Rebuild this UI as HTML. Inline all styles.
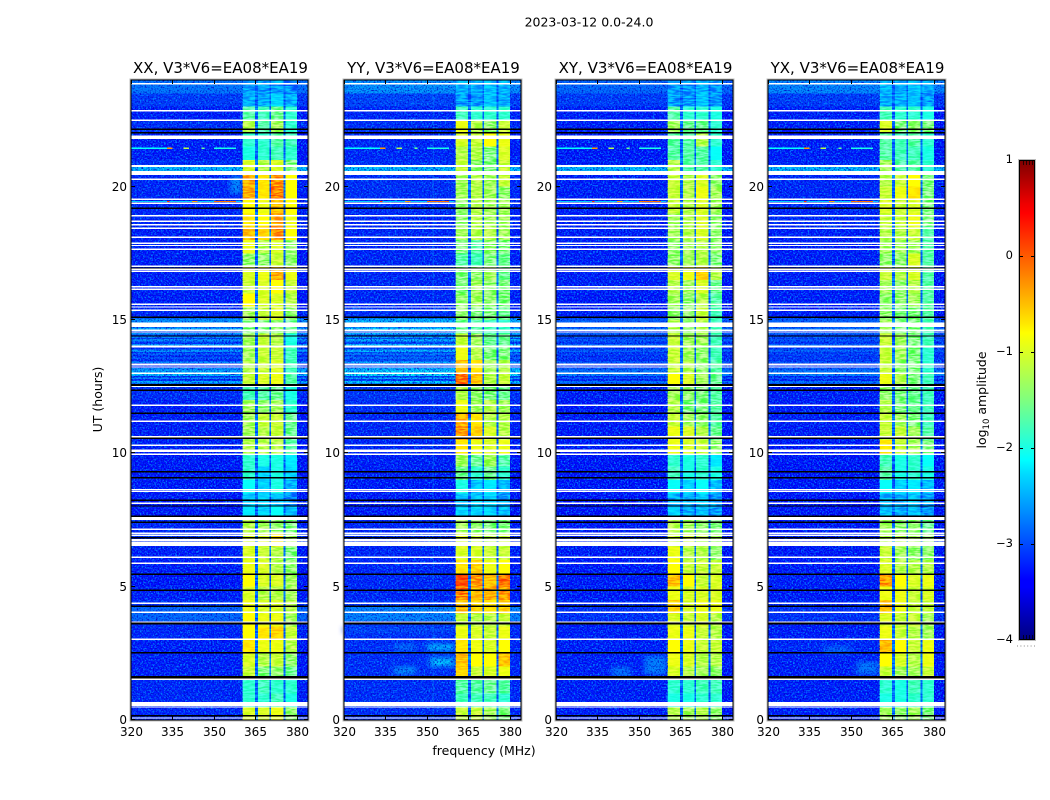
<!DOCTYPE html>
<html lang="en">
<head>
<meta charset="utf-8">
<title>2023-03-12 0.0-24.0</title>
<style>
html,body{margin:0;padding:0;background:#fff;}
svg{display:block;}
text{font-family:"DejaVu Sans","Liberation Sans",sans-serif;fill:#000;}
</style>
</head>
<body>
<svg id="figure" xmlns="http://www.w3.org/2000/svg" width="1050" height="800" viewBox="0 0 1050 800">
  <defs>
    <filter id="noise" x="0" y="0" width="100%" height="100%" color-interpolation-filters="sRGB">
      <feTurbulence type="fractalNoise" baseFrequency="0.12 0.6" numOctaves="2" seed="4"/>
      <feColorMatrix type="matrix" values="3.4 0 0 0 -1.2  3.4 0 0 0 -1.2  3.4 0 0 0 -1.2  0 0 0 0 1"/>
    </filter>
    <filter id="speckle-light" x="0" y="0" width="100%" height="100%" color-interpolation-filters="sRGB">
      <feTurbulence type="fractalNoise" baseFrequency="0.62" numOctaves="2" seed="7"/>
      <feColorMatrix type="matrix" values="0 0 0 0 0  0 0 0 0 0.52  0 0 0 0 1  3.6 0 0 0 -1.6"/>
    </filter>
    <filter id="speckle-dark" x="0" y="0" width="100%" height="100%" color-interpolation-filters="sRGB">
      <feTurbulence type="fractalNoise" baseFrequency="0.62" numOctaves="2" seed="21"/>
      <feColorMatrix type="matrix" values="0 0 0 0 0  0 0 0 0 0  0 0 0 0 0.78  3 0 0 0 -1.45"/>
    </filter>
    <filter id="soft" x="-30%" y="-60%" width="160%" height="220%">
      <feGaussianBlur stdDeviation="3 2"/>
    </filter>
    <linearGradient id="jet-gradient" x1="0" y1="1" x2="0" y2="0">
      <stop offset="0" stop-color="#00007f"/>
      <stop offset="0.11" stop-color="#0000ff"/>
      <stop offset="0.125" stop-color="#0000ff"/>
      <stop offset="0.35" stop-color="#00e0ff"/>
      <stop offset="0.375" stop-color="#00ffff"/>
      <stop offset="0.5" stop-color="#7fff7f"/>
      <stop offset="0.64" stop-color="#ffff00"/>
      <stop offset="0.66" stop-color="#ffe800"/>
      <stop offset="0.89" stop-color="#ff0000"/>
      <stop offset="0.91" stop-color="#ee0000"/>
      <stop offset="1" stop-color="#7f0000"/>
    </linearGradient>
  </defs>
  <text x="589" y="26.5" text-anchor="middle" font-size="12.5">2023-03-12 0.0-24.0</text>
  <text x="484" y="755" text-anchor="middle" font-size="12.5">frequency (MHz)</text>
  <text x="102" y="399.5" text-anchor="middle" font-size="12.5" transform="rotate(-90 102 399.5)">UT (hours)</text>
  <text x="986" y="400" text-anchor="middle" font-size="12.5" transform="rotate(-90 986 400)">log<tspan font-size="8.5" dy="3">10</tspan><tspan dy="-3"> amplitude</tspan></text>
  <g id="panels"></g>
  <g id="colorbar"></g>
</svg>
<script>
// Half-hour bins, from 0 UT upward, log10 amplitude for each sub-band
const xxBandA = [-1.0,-1.9,-1.9,-1.1,-1.0,-0.7,-0.8,-0.8,-0.9,-1.0,-0.8,-0.9,-1.0,-1.0,-1.2,-2.2,-2.4,-2.1,-1.9,-1.9,-1.2,-1.3,-1.3,-1.3,-1.8,-1.1,-1.2,-1.3,-1.3,-1.5,-1.3,-0.8,-1.1,-1.0,-1.4,-0.9,-0.5,-0.7,-0.8,-0.4,-0.4,-1.0,-2.0,-1.9,-1.2,-1.7,-2.5,-2.6];
const xxBandB = [-1.0,-1.9,-1.8,-1.5,-1.2,-0.9,-0.7,-0.9,-1.0,-1.2,-1.0,-1.0,-1.1,-1.0,-1.3,-2.3,-2.3,-2.3,-2.3,-2.0,-1.2,-1.2,-1.1,-1.4,-1.7,-1.0,-1.1,-1.1,-1.1,-1.5,-1.1,-1.0,-1.0,-0.9,-1.4,-1.2,-0.6,-0.8,-0.9,-0.7,-0.7,-1.2,-1.9,-1.9,-1.7,-1.8,-2.5,-2.6];
const xxBandC = [-0.9,-1.8,-1.9,-1.4,-1.1,-0.9,-0.6,-0.9,-1.0,-1.2,-1.0,-1.2,-1.2,-0.7,-1.4,-2.1,-2.4,-2.0,-2.0,-2.0,-1.2,-1.1,-1.1,-1.3,-1.6,-0.9,-1.0,-1.1,-1.2,-1.4,-1.0,-1.0,-0.8,-0.4,-1.1,-1.0,-0.3,-0.4,-0.5,-0.2,-0.3,-1.0,-1.8,-1.7,-1.3,-1.6,-2.3,-2.6];
const xxBandD = [-1.4,-2.0,-1.9,-1.6,-1.4,-1.2,-1.1,-1.3,-1.2,-1.3,-1.3,-1.4,-1.5,-1.3,-1.5,-2.4,-2.7,-2.5,-2.3,-2.2,-1.7,-1.6,-1.6,-1.9,-2.0,-1.7,-1.8,-1.8,-2.0,-1.6,-1.4,-1.2,-1.1,-0.9,-1.4,-1.4,-0.8,-0.9,-0.8,-0.8,-0.8,-1.5,-1.9,-1.8,-1.9,-1.9,-2.5,-2.7];
const yyBandA = [-1.1,-1.8,-1.7,-0.6,-0.5,-0.7,-0.9,-1.1,-0.5,-0.2,0.1,-0.7,-1.0,-1.0,-1.3,-2.3,-2.4,-2.0,-1.6,-1.3,-0.7,-0.3,-0.4,-0.9,-1.2,-0.1,-0.5,-0.9,-1.1,-1.6,-1.4,-1.4,-1.5,-1.5,-1.7,-1.5,-1.3,-1.4,-1.4,-1.3,-1.3,-1.1,-1.2,-1.0,-0.9,-1.8,-2.6,-2.5];
const yyBandB = [-1.1,-1.8,-1.7,-1.1,-0.8,-0.9,-1.0,-1.2,-0.6,-0.5,-0.3,-0.6,-1.0,-1.1,-1.4,-2.3,-2.4,-2.4,-1.9,-1.6,-0.9,-0.6,-0.7,-1.3,-1.4,-0.5,-0.7,-1.2,-1.3,-1.7,-1.5,-1.3,-1.3,-1.4,-1.8,-1.7,-1.2,-1.2,-1.2,-1.2,-1.2,-1.4,-1.2,-1.1,-1.2,-1.9,-2.6,-2.5];
const yyBandC = [-1.3,-1.8,-1.6,-1.0,-0.8,-1.0,-1.1,-1.2,-0.7,-0.4,-0.5,-0.9,-1.1,-1.2,-1.5,-2.3,-2.3,-2.2,-1.6,-1.3,-1.0,-1.0,-1.2,-1.2,-1.5,-1.2,-1.3,-1.5,-1.6,-1.8,-1.5,-1.4,-1.4,-1.3,-1.5,-1.4,-1.2,-1.3,-1.3,-1.3,-1.3,-1.5,-1.5,-0.8,-1.4,-1.9,-2.4,-2.4];
const yyBandD = [-1.5,-1.9,-1.7,-0.9,-0.5,-0.8,-0.9,-1.1,-0.6,-0.3,-0.1,-0.8,-1.1,-1.1,-1.5,-2.4,-2.6,-2.5,-1.9,-1.7,-0.9,-1.2,-1.2,-1.3,-1.6,-1.1,-1.2,-1.5,-1.6,-1.9,-1.6,-1.5,-1.5,-1.6,-1.6,-1.5,-1.3,-1.3,-1.3,-1.4,-1.1,-1.1,-1.0,-0.9,-1.1,-1.9,-2.5,-2.5];
const xyBandA = [-1.2,-2.0,-1.9,-1.0,-0.9,-0.8,-0.9,-1.0,-0.6,-0.9,-0.5,-0.8,-0.9,-1.1,-1.2,-2.3,-2.5,-2.1,-1.8,-1.9,-0.9,-0.9,-1.1,-1.2,-1.3,-0.8,-1.1,-1.1,-1.1,-1.2,-1.4,-1.3,-1.2,-1.0,-1.4,-1.4,-1.3,-1.3,-1.1,-1.1,-1.1,-1.2,-1.7,-1.7,-1.3,-1.7,-2.6,-2.6];
const xyBandB = [-1.3,-2.0,-1.9,-1.2,-1.0,-0.9,-0.9,-1.1,-1.0,-1.0,-0.8,-1.1,-1.2,-1.1,-1.3,-2.5,-2.5,-2.3,-2.0,-2.0,-1.0,-1.0,-1.3,-1.5,-1.4,-1.0,-1.2,-1.3,-1.3,-1.4,-1.4,-1.4,-1.3,-0.9,-1.3,-1.3,-1.2,-1.2,-1.2,-1.2,-1.2,-1.7,-1.7,-1.7,-1.6,-1.9,-2.6,-2.6];
const xyBandC = [-1.2,-1.9,-1.8,-1.3,-1.2,-1.1,-1.1,-1.0,-0.9,-1.0,-1.1,-1.1,-1.2,-1.2,-1.4,-2.4,-2.4,-2.1,-1.9,-1.9,-1.1,-1.2,-1.4,-1.5,-1.5,-1.3,-1.4,-1.4,-1.3,-1.2,-1.1,-1.2,-1.0,-0.6,-1.2,-1.2,-1.0,-1.0,-1.0,-0.9,-1.0,-1.7,-1.7,-1.2,-1.6,-1.9,-2.4,-2.5];
const xyBandD = [-1.4,-1.9,-1.8,-1.4,-1.2,-1.1,-1.2,-1.2,-0.9,-1.0,-1.0,-1.1,-1.4,-1.3,-1.5,-2.6,-2.6,-2.4,-2.0,-2.2,-1.4,-1.6,-1.7,-1.7,-1.7,-1.6,-1.7,-1.8,-1.8,-1.8,-1.8,-1.7,-1.6,-1.2,-1.5,-1.4,-1.4,-1.4,-1.3,-1.3,-1.4,-1.9,-2.1,-1.9,-1.9,-2.0,-2.6,-2.6];
const yxBandA = [-1.3,-2.0,-1.9,-1.1,-0.8,-0.5,-0.9,-1.0,-0.5,-0.9,-0.3,-1.0,-1.1,-1.2,-1.3,-2.4,-2.5,-2.1,-1.7,-1.8,-0.7,-1.1,-1.1,-1.2,-1.4,-0.9,-1.1,-1.1,-1.1,-1.3,-1.4,-1.4,-1.3,-1.1,-1.4,-1.3,-1.2,-1.1,-1.0,-1.1,-1.2,-1.3,-1.7,-1.7,-1.0,-1.8,-2.5,-2.45];
const yxBandB = [-1.4,-2.0,-2.0,-1.3,-1.0,-0.8,-1.1,-1.1,-0.9,-0.9,-0.8,-1.2,-1.3,-1.2,-1.4,-2.5,-2.5,-2.3,-2.0,-2.0,-1.1,-1.1,-1.3,-1.5,-1.5,-1.2,-1.4,-1.3,-1.3,-1.5,-1.5,-1.4,-1.4,-1.2,-1.4,-1.3,-1.2,-1.1,-1.1,-0.9,-1.1,-1.7,-1.8,-1.8,-1.5,-1.9,-2.5,-2.5];
const yxBandC = [-1.3,-1.9,-1.8,-1.3,-1.2,-1.1,-1.2,-1.1,-1.1,-1.1,-1.0,-1.2,-1.4,-1.3,-1.4,-2.4,-2.4,-2.2,-1.9,-1.9,-1.3,-1.3,-1.5,-1.6,-1.6,-1.5,-1.5,-1.5,-1.5,-1.5,-1.5,-1.3,-1.2,-1.0,-1.0,-1.3,-1.1,-0.9,-1.0,-0.7,-0.8,-1.7,-1.8,-1.7,-1.4,-1.9,-2.4,-2.4];
const yxBandD = [-1.5,-1.9,-1.9,-1.1,-0.9,-0.9,-1.3,-1.3,-1.1,-1.0,-0.9,-1.2,-1.4,-1.4,-1.6,-2.6,-2.6,-2.4,-2.0,-2.1,-1.5,-1.7,-1.8,-1.8,-1.8,-1.8,-1.9,-1.9,-1.8,-1.8,-1.7,-1.7,-1.7,-1.7,-1.7,-1.7,-1.7,-1.5,-1.5,-1.5,-1.5,-1.9,-2.0,-1.9,-1.5,-2.0,-2.6,-2.5];
// Background level outside the sub-bands, per half-hour bin
const xxBackground = [-3.27,-3.27,-3.27,-3.32,-3.32,-3.32,-3.27,-3.22,-3.22,-3.32,-3.37,-3.32,-3.32,-3.22,-3.27,-3.35,-3.35,-3.35,-3.35,-3.35,-3.32,-3.32,-3.32,-3.32,-3.22,-3.22,-3.22,-3.22,-3.17,-3.12,-3.27,-3.32,-3.32,-3.32,-3.32,-3.32,-3.32,-3.27,-3.27,-3.27,-3.27,-3.22,-3.32,-3.32,-3.22,-3.32,-3.12,-2.75];
const yyBackground = [-3.22,-3.22,-3.22,-3.22,-3.22,-3.22,-3.22,-3.17,-3.17,-3.27,-3.27,-3.27,-3.27,-3.22,-3.27,-3.35,-3.35,-3.35,-3.32,-3.32,-3.27,-3.27,-3.27,-3.22,-3.17,-3.12,-3.02,-3.07,-3.07,-3.02,-3.22,-3.27,-3.27,-3.27,-3.27,-3.27,-3.27,-3.27,-3.22,-3.22,-3.22,-3.22,-3.27,-3.27,-3.22,-3.27,-3.07,-2.55];
const xyBackground = [-3.32,-3.32,-3.32,-3.32,-3.32,-3.32,-3.32,-3.32,-3.27,-3.35,-3.35,-3.35,-3.35,-3.32,-3.35,-3.4,-3.4,-3.4,-3.38,-3.38,-3.35,-3.35,-3.35,-3.35,-3.32,-3.27,-3.22,-3.22,-3.17,-3.22,-3.32,-3.35,-3.32,-3.32,-3.32,-3.32,-3.32,-3.32,-3.32,-3.32,-3.32,-3.32,-3.35,-3.35,-3.32,-3.32,-3.12,-2.85];
const yxBackground = [-3.32,-3.32,-3.32,-3.32,-3.32,-3.27,-3.32,-3.32,-3.27,-3.35,-3.32,-3.35,-3.35,-3.32,-3.35,-3.4,-3.4,-3.4,-3.38,-3.38,-3.35,-3.35,-3.32,-3.32,-3.32,-3.27,-3.22,-3.17,-3.17,-3.22,-3.32,-3.32,-3.32,-3.32,-3.32,-3.32,-3.32,-3.27,-3.27,-3.27,-3.27,-3.27,-3.32,-3.32,-3.32,-3.32,-3.12,-2.62];

// Flagged time ranges in hours, common to all baselines
const whiteFlags = [[23.84,23.89],[22.82,22.87],[22.46,22.52],[21.79,21.91],[20.73,20.81],[20.44,20.59],[20.25,20.30],[19.5,19.55],[19.35,19.40],[18.89,18.94],[18.68,18.73],[18.55,18.60],[18.42,18.47],[18.08,18.13],[17.85,17.90],[17.77,17.82],[17.63,17.68],[16.99,17.04],[16.88,16.93],[16.80,16.85],[16.22,16.28],[16.13,16.19],[15.56,15.62],[15.46,15.51],[15.34,15.39],[14.74,14.90],[14.59,14.64],[14.53,14.57],[13.96,14.04],[13.29,13.36],[13.21,13.26],[12.98,13.03],[12.49,12.54],[11.78,11.83],[11.18,11.23],[10.60,10.65],[10.28,10.33],[10.05,10.15],[9.94,9.99],[8.63,8.67],[8.55,8.60],[8.10,8.15],[7.50,7.62],[7.13,7.18],[6.98,7.03],[6.90,6.95],[6.70,6.78],[6.53,6.68],[6.08,6.13],[5.85,5.90],[4.35,4.40],[4.01,4.07],[3.64,3.69],[3.00,3.05],[1.50,1.55],[0.53,0.68],[0.46,0.51],[0.05,0.10]];
const blackFlags = [[22.12,22.19],[22.0,22.05],[19.16,19.22],[16.93,16.97],[15.08,15.13],[14.38,14.42],[12.53,12.6],[12.34,12.40],[11.48,11.53],[10.54,10.59],[9.29,9.34],[9.06,9.11],[8.21,8.27],[8.0,8.05],[7.61,7.67],[7.39,7.44],[6.81,6.86],[5.44,5.49],[4.84,4.89],[4.24,4.29],[3.59,3.65],[2.50,2.55],[1.55,1.65],[0.14,0.19]];

// Wide-band stripes across the background: start hour, end hour, level
const stripeStart = [3.72,12.62,12.78,12.9,13.03,13.13,13.38,13.55,13.7,13.8,14.05,14.2,14.32,14.45,14.6,14.9];
const stripeEnd   = [4.30,12.72,12.85,12.97,13.12,13.2,13.45,13.6,13.75,13.9,14.1,14.28,14.38,14.52,14.72,15.05];
const stripeLevel = [-2.85,-2.4,-2.6,-2.3,-2.4,-2.55,-2.55,-2.75,-2.65,-2.55,-2.5,-2.6,-2.65,-2.45,-2.4,-2.55];
const stripeBoost = [0,0.2,-0.35,-0.35];
const sharedStripeStart = 20.59;
const sharedStripeEnd = 20.73;
const sharedStripeLevel = -2.3;

// Narrow-band interference: freq start, freq end, hour, level
const rfiFreqStart = [320,333,345.5,339,350,320,333,342,350];
const rfiFreqEnd   = [334,335,346.5,341,358,360,334,344,358];
const rfiHour      = [21.44,21.44,21.44,21.44,21.44,19.44,19.44,19.44,19.44];
const rfiLevel     = [-2.1,-0.3,-1.6,-1.2,-2.0,-2.35,0.2,-0.4,-0.1];

// Diffuse patches per panel index: panel, freq start, freq end, hour start, hour end, level
const patchPanel = [1,1,1,1,2,2,3,3,0,1];
const patchFreqStart = [350,351,338,338,352,340,340,352,356,320];
const patchFreqEnd   = [360,360,346,346,360,347,350,360,360,360];
const patchHourStart = [2.6,2.0,1.7,2.6,1.7,1.6,2.5,1.7,19.75,3.25];
const patchHourEnd   = [2.85,2.35,2.0,2.85,2.4,2.0,2.75,2.2,20.4,3.5];
const patchLevel     = [-2.3,-2.3,-2.6,-2.8,-2.7,-2.8,-2.85,-2.75,-2.6,-3.05];

const subBandNames = ['a','b','c','d'];
const subBandStart = [360.4,365.9,370.7,375.8];
const subBandEnd   = [364.9,370.0,375.2,380.1];
const gapStart = [364.9,370.0,375.2];
const gapEnd   = [365.9,370.7,375.8];
const gapLevel = -2.85;
const freqTicks = [320,335,350,365,380];
const hourTicks = [0,5,10,15,20];
const colorbarTicks = [1,0,-1,-2,-3,-4];
const panelTitles = ['XX, V3*V6=EA08*EA19','YY, V3*V6=EA08*EA19','XY, V3*V6=EA08*EA19','YX, V3*V6=EA08*EA19'];
const panelKeys = ['xx','yy','xy','yx'];
const panelBands = [[xxBandA,xxBandB,xxBandC,xxBandD],[yyBandA,yyBandB,yyBandC,yyBandD],[xyBandA,xyBandB,xyBandC,xyBandD],[yxBandA,yxBandB,yxBandC,yxBandD]];
const panelBackgrounds = [xxBackground,yyBackground,xyBackground,yxBackground];

const SVG_NS = 'http://www.w3.org/2000/svg';
const panelLeft = [131,344,556,768];
const panelWidth = 177;
const plotTop = 80;
const plotBottom = 720;
const freqMin = 320;
const freqMax = 384;
const bandLow = 360.4;
const bandHigh = 380.1;
const binHours = 0.5;

function xScale(left, mhz) { return left + (mhz - freqMin) / (freqMax - freqMin) * panelWidth; }
function yScale(hour) { return plotBottom - hour / 24 * (plotBottom - plotTop); }
function lerp(a, b, t) { return a + (b - a) * t; }
function jetColor(level) {
  const f = Math.max(0, Math.min(1, (level + 4) / 5));
  const stops = [[0,0,0,127],[0.11,0,0,255],[0.125,0,0,255],[0.35,0,224,255],[0.375,0,255,255],[0.5,127,255,127],[0.64,255,255,0],[0.66,255,232,0],[0.89,255,0,0],[0.91,238,0,0],[1,127,0,0]];
  for (let i = 1; i < stops.length; i++) {
    if (f <= stops[i][0]) {
      const a = stops[i - 1], b = stops[i];
      const t = (f - a[0]) / (b[0] - a[0]);
      return 'rgb(' + Math.round(lerp(a[1], b[1], t)) + ',' + Math.round(lerp(a[2], b[2], t)) + ',' + Math.round(lerp(a[3], b[3], t)) + ')';
    }
  }
  return 'rgb(127,0,0)';
}
function make(parent, tag, attrs) {
  const node = document.createElementNS(SVG_NS, tag);
  for (const k in attrs) node.setAttribute(k, attrs[k]);
  parent.appendChild(node);
  return node;
}
function box(parent, left, f0, f1, h0, h1, fill) {
  const x0 = xScale(left, f0), x1 = xScale(left, f1);
  const y0 = yScale(h1), y1 = yScale(h0);
  return make(parent, 'rect', { x: x0.toFixed(2), y: y0.toFixed(2), width: (x1 - x0).toFixed(2), height: (y1 - y0).toFixed(2), fill: fill, 'shape-rendering': 'crispEdges' });
}

const panelsRoot = document.getElementById('panels');
panelKeys.forEach(function (key, p) {
  const left = panelLeft[p];
  const group = make(panelsRoot, 'g', {});
  
  

  const heatmap = make(group, 'g', {});
  
  

  const bg = panelBackgrounds[p];
  bg.forEach(function (level, i) {
    const h0 = i * binHours, h1 = h0 + binHours;
    const lowCell = box(heatmap, left, freqMin, bandLow, h0, h1, jetColor(level));
    
    
    const highCell = box(heatmap, left, bandHigh, freqMax, h0, h1, jetColor(level - 0.05));
    
    
  });

  stripeLevel.forEach(function (level, i) {
    const shown = level + stripeBoost[p];
    const lowStripe = box(heatmap, left, freqMin, bandLow, stripeStart[i], stripeEnd[i], jetColor(shown));
    
    
    const highStripe = box(heatmap, left, bandHigh, freqMax, stripeStart[i], stripeEnd[i], jetColor(shown));
    
    
  });

  const sharedLow = box(heatmap, left, freqMin, bandLow, sharedStripeStart, sharedStripeEnd, jetColor(sharedStripeLevel));
  
  
  const sharedHigh = box(heatmap, left, bandHigh, freqMax, sharedStripeStart, sharedStripeEnd, jetColor(sharedStripeLevel));
  
  

  patchLevel.forEach(function (level, i) {
    if (patchPanel[i] !== p) return;
    const patch = box(heatmap, left, patchFreqStart[i], patchFreqEnd[i], patchHourStart[i], patchHourEnd[i], jetColor(level));
    patch.setAttribute('filter', 'url(#soft)');
    
    
  });

  panelBands[p].forEach(function (series, b) {
    series.forEach(function (level, i) {
      const h0 = i * binHours, h1 = h0 + binHours;
      const cell = box(heatmap, left, subBandStart[b], subBandEnd[b], h0, h1, jetColor(level));
      
      
    });
  });

  gapStart.forEach(function (f0, g) {
    const gap = box(heatmap, left, f0, gapEnd[g], 0, 24, jetColor(gapLevel));
    
    
  });

  if (p === 1) {
    const line = box(heatmap, left, 352, 352.5, 0, 24, jetColor(-2.6));
    line.setAttribute('opacity', '0.4');
    
    
  }

  [[freqMin, bandLow], [bandHigh, freqMax]].forEach(function (range) {
    const light = make(group, 'rect', { x: xScale(left, range[0]).toFixed(2), y: plotTop, width: (xScale(left, range[1]) - xScale(left, range[0])).toFixed(2), height: plotBottom - plotTop, filter: 'url(#speckle-light)' });
    
    
    const dark = make(group, 'rect', { x: xScale(left, range[0]).toFixed(2), y: plotTop, width: (xScale(left, range[1]) - xScale(left, range[0])).toFixed(2), height: plotBottom - plotTop, filter: 'url(#speckle-dark)' });
    
    
  });
  const texture = make(group, 'rect', { x: xScale(left, bandLow).toFixed(2), y: plotTop, width: (xScale(left, bandHigh) - xScale(left, bandLow)).toFixed(2), height: plotBottom - plotTop, filter: 'url(#noise)', opacity: '0.5', style: 'mix-blend-mode:overlay' });
  
  

  rfiLevel.forEach(function (level, i) {
    const rfi = box(group, left, rfiFreqStart[i], rfiFreqEnd[i], rfiHour[i] - 0.02, rfiHour[i] + 0.02, jetColor(level));
    
    
  });

  whiteFlags.forEach(function (range) {
    const flag = box(group, left, freqMin, freqMax, range[0], range[1], '#ffffff');
    
    
  });
  blackFlags.forEach(function (range) {
    const flag = box(group, left, freqMin, freqMax, range[0], range[1], '#000000');
    
    
  });

  const outer = make(group, 'rect', { x: left - 1, y: plotTop - 1, width: panelWidth + 2, height: plotBottom - plotTop + 2, fill: 'none', stroke: '#bdbdbd', 'stroke-width': 1 });
  
  
  const frame = make(group, 'rect', { x: left, y: plotTop, width: panelWidth, height: plotBottom - plotTop, fill: 'none', stroke: '#000', 'stroke-width': 1, 'shape-rendering': 'crispEdges' });
  
  

  const title = make(group, 'text', { x: left + panelWidth / 2 + 1, y: 73, 'text-anchor': 'middle', 'font-size': 15 });
  title.textContent = panelTitles[p];
  
  

  freqTicks.forEach(function (f) {
    const x = Math.round(xScale(left, f)) + 0.5;
    const tickBottom = make(group, 'line', { x1: x, x2: x, y1: plotBottom, y2: plotBottom - 4, stroke: '#000' });
    
    
    const tickTop = make(group, 'line', { x1: x, x2: x, y1: plotTop, y2: plotTop + 4, stroke: '#000' });
    
    
    const label = make(group, 'text', { x: x, y: 736, 'text-anchor': 'middle', 'font-size': 12 });
    label.textContent = String(f);
    
    
  });
  hourTicks.forEach(function (h) {
    const y = Math.round(yScale(h)) - 0.5;
    const tickLeft = make(group, 'line', { x1: left, x2: left + 4, y1: y, y2: y, stroke: '#000' });
    
    
    const tickRight = make(group, 'line', { x1: left + panelWidth, x2: left + panelWidth - 4, y1: y, y2: y, stroke: '#000' });
    
    
    const label = make(group, 'text', { x: left - 4, y: y + 4.5, 'text-anchor': 'end', 'font-size': 12 });
    label.textContent = String(h);
    
    
  });
});

const barRoot = document.getElementById('colorbar');
const barLeft = 1019, barRight = 1035, barTop = 160, barBottom = 640, barMin = -4, barMax = 1;
function barY(v) { return barBottom - (v - barMin) / (barMax - barMin) * (barBottom - barTop); }
const barOuter = make(barRoot, 'rect', { x: barLeft - 0.5, y: barTop - 0.5, width: barRight - barLeft + 1, height: barBottom - barTop + 1, fill: 'none', stroke: '#bdbdbd' });


const barFill = make(barRoot, 'rect', { x: barLeft + 0.5, y: barTop + 0.5, width: barRight - barLeft - 1, height: barBottom - barTop - 1, fill: 'url(#jet-gradient)', stroke: '#000' });


colorbarTicks.forEach(function (v) {
  const y = Math.round(barY(v)) + 0.5;
  if (v !== barMin && v !== barMax) {
    const tickL = make(barRoot, 'line', { x1: barLeft, x2: barLeft + 4, y1: y, y2: y, stroke: '#000' });
    
    
    const tickR = make(barRoot, 'line', { x1: barRight - 4, x2: barRight, y1: y, y2: y, stroke: '#000' });
    
    
  }
  const label = make(barRoot, 'text', { x: 1013, y: Math.round(barY(v)) + 3, 'text-anchor': 'end', 'font-size': 11.5 });
  label.textContent = String(v).replace('-', '\u2212');
  
  
});
[1023.5, 1026.5, 1029.5, 1032.5].forEach(function (x) {
  const topTick = make(barRoot, 'line', { x1: x, x2: x, y1: barTop, y2: barTop + 5, stroke: '#000', 'stroke-opacity': 0.7 });
  
  
  const bottomTick = make(barRoot, 'line', { x1: x, x2: x, y1: barBottom, y2: barBottom - 5, stroke: '#000', 'stroke-opacity': 0.7 });
  
  
});
const dots = make(barRoot, 'line', { x1: 1017, x2: 1035, y1: 646, y2: 646, stroke: '#888', 'stroke-dasharray': '1 2.4' });


</script>
</body>
</html>
